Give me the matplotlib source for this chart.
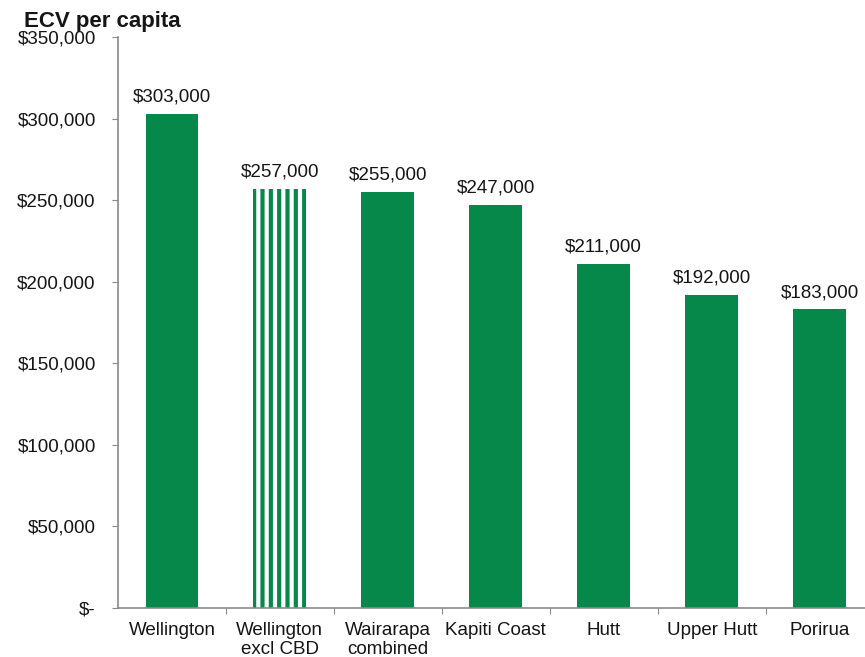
import matplotlib.pyplot as plt
from matplotlib.ticker import FuncFormatter, FixedLocator

plt.rcParams['font.family'] = ['Liberation Sans', 'DejaVu Sans']
plt.rcParams['hatch.linewidth'] = 3.0

# ECV per capita by area
areas = ['Wellington', 'Wellington\nexcl CBD', 'Wairarapa\ncombined',
         'Kapiti Coast', 'Hutt', 'Upper Hutt', 'Porirua']
values = [303000, 257000, 255000, 247000, 211000, 192000, 183000]
hatched = [False, True, False, False, False, False, False]

green = '#07884B'
axis_grey = '#8a8a8a'
text_col = '#151515'

fig = plt.figure(figsize=(8.65, 6.57), dpi=100)
ax = fig.add_axes([0.1364, 0.0746, 0.8636, 0.8691])

x = list(range(len(areas)))
for xi, v, h in zip(x, values, hatched):
    if h:
        ax.bar(xi, v, width=0.49, color='white', edgecolor=green,
               hatch='||', linewidth=0)
    else:
        ax.bar(xi, v, width=0.49, color=green, linewidth=0)
    ax.annotate(f'${v:,.0f}', (xi, v), xytext=(0, 6), textcoords='offset points',
                ha='center', va='bottom', fontsize=13.5, color=text_col)

ax.set_xlim(-0.5, 6.42)
ax.set_ylim(0, 350000)
ax.set_yticks(range(0, 350001, 50000))
ax.yaxis.set_major_formatter(FuncFormatter(lambda v, p: '$-' if v == 0 else f'${v:,.0f}'))

# category labels at bar centres, tick marks at category boundaries
ax.xaxis.set_major_locator(FixedLocator([i + 0.5 for i in range(len(areas))]))
ax.xaxis.set_minor_locator(FixedLocator(x))
ax.set_xticklabels([])
ax.set_xticklabels(areas, minor=True)
ax.tick_params(axis='x', which='major', direction='out', length=4, color=axis_grey)
ax.tick_params(axis='x', which='minor', length=0, pad=10, labelsize=13.5,
               labelcolor=text_col)
ax.tick_params(axis='y', direction='out', length=4, color=axis_grey, pad=12,
               labelsize=13.5, labelcolor=text_col)

for s in ['top', 'right']:
    ax.spines[s].set_visible(False)
for s in ['left', 'bottom']:
    ax.spines[s].set_color(axis_grey)
    ax.spines[s].set_linewidth(1.2)

fig.text(0.028, 0.968, 'ECV per capita', fontsize=16, fontweight='bold',
         color=text_col, ha='left', va='center')

fig.savefig('out.png', dpi=100)
